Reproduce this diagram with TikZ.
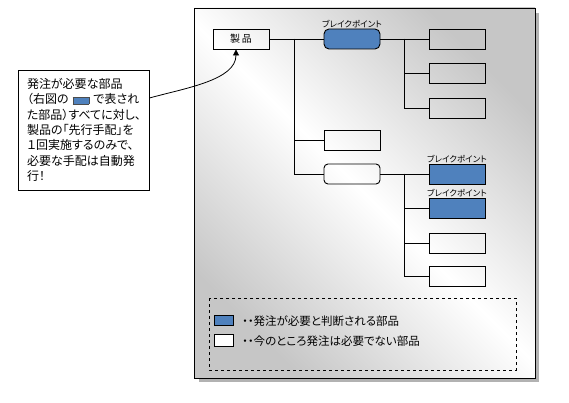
\documentclass[tikz,border=0pt]{standalone}
\usepackage{fontspec}
\newfontfamily\jpfont[RawFeature=+palt]{Noto Sans CJK JP}
\usetikzlibrary{positioning,arrows.meta,calc}
\definecolor{partblue}{HTML}{4F81BD}
\begin{document}
\begin{tikzpicture}[x=1pt,y=-1pt,font=\jpfont\fontsize{10}{12}\selectfont,
    part/.style={draw,line width=0.9pt,minimum width=56pt,minimum height=20pt,inner sep=0pt},
    order/.style={part,fill=partblue},
    soft/.style={part,rounded corners=4pt},
    bp/.style={font=\jpfont\fontsize{8.5}{8.5}\selectfont,inner sep=0pt},
    legtext/.style={anchor=west,inner sep=0pt,font=\jpfont\fontsize{11.5}{12}\selectfont},
    tree/.style={line width=0.9pt}]
  \useasboundingbox (0,0) rectangle (569,403);
  % panel with shadow
  \fill[gray!60] (199,13) rectangle (539,382);
  \shade[top color=gray!45,bottom color=gray!45,middle color=white,shading angle=-45]
    (194,8) rectangle (535,378);
  \draw[line width=0.9pt] (194,8) rectangle (535,378);
  % parts tree
  \node[part] (prod) at (241,39) {製\,品};
  \node[order,rounded corners=5pt] (bp1) at (352,39) {};
  \node[part] (mid) at (352,140) {};
  \node[soft] (sub) at (352,174) {};
  \foreach \n/\y/\s in {ra/39/part,rb/73/part,rc/108/part,
                        rd/174/order,re/208/order,rf/243/part,rg/276/part}
    \node[\s] (\n) at (457,\y) {};
  \node[bp,above=0pt of bp1] (bp1lbl) {ブレイクポイント};
  \node[bp,above=0pt of rd] (rdlbl) {ブレイクポイント};
  \node[bp,above=0pt of re] (relbl) {ブレイクポイント};
  \coordinate (j1) at (294,39);
  \coordinate (j2) at (404,39);
  \coordinate (j3) at (404,174);
  \draw[tree] (prod) -- (bp1);
  \draw[tree] (j1) |- (mid.west);
  \draw[tree] (j1) |- (sub.west);
  \draw[tree] (bp1) -- (ra);
  \foreach \n in {rb,rc} \draw[tree] (j2) |- (\n.west);
  \draw[tree] (sub) -- (rd);
  \foreach \n in {re,rf,rg} \draw[tree] (j3) |- (\n.west);
  % legend
  \draw[dashed,line width=0.8pt] (209,298) rectangle (516,370);
  \node[draw,fill=partblue,minimum width=19pt,minimum height=10pt,inner sep=0pt] (legA) at (223.5,320) {};
  \node[draw,fill=white,minimum width=19pt,minimum height=12pt,inner sep=0pt] (legB) at (223.5,340) {};
  \node[legtext] (legAtxt) at (242,321) {・・発注が必要と判断される部品};
  \node[legtext] (legBtxt) at (242,341) {・・今のところ発注は必要でない部品};
  % note
  \node[draw,fill=white,line width=0.8pt,text width=113pt,inner xsep=9pt,minimum height=120pt,align=left,
        font=\jpfont\fontsize{12}{15.3}\selectfont] (note) at (83.5,130)
    {発注が必要な部品\\
     （右図の {\setlength\fboxsep{0pt}\fcolorbox{black!70}{partblue}{\rule{0pt}{7pt}\hspace{16pt}}} で表され\\
     た部品）すべてに対し、\\
     製品の「先行手配」を\\
     １回実施するのみで、\\
     必要な手配は自動発\\
     行！};
  \draw[line width=0.8pt,-{Triangle[length=6pt,width=6pt]}]
    ([yshift=32pt]note.east) .. controls (186,88) and (236,80) .. ([xshift=-5pt]prod.south);
\end{tikzpicture}
\end{document}
